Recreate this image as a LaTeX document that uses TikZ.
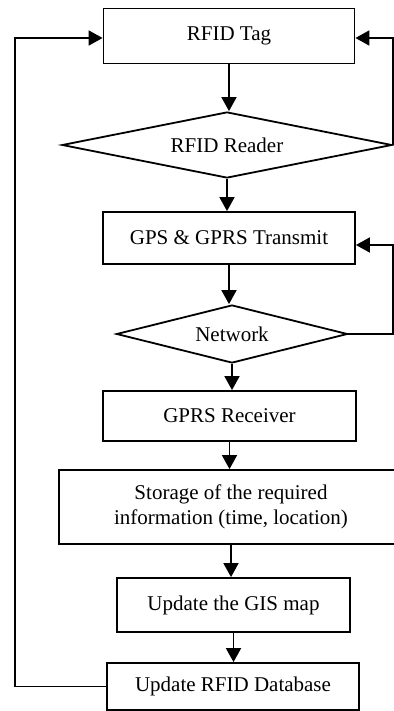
\documentclass[tikz,border=0pt]{standalone}
\usepackage{fontspec}
\setmainfont{Liberation Serif}
\usetikzlibrary{arrows.meta,shapes.geometric,calc}
\tikzset{>={Triangle[length=7pt,width=7.5pt]},
every picture/.append style={
    line join=miter,
    line width=0.9pt
  },
stepbox/.style={draw,rectangle,align=center,inner sep=2pt,font=\fontsize{10.5}{12.5}\selectfont},
choice/.style={draw,diamond,inner sep=0pt,aspect=5,font=\fontsize{10.5}{12.5}\selectfont}}

\begin{document}
\begin{tikzpicture}[x=0.5pt,y=-0.5pt]
    \useasboundingbox (0,0) rectangle (393,711);
    \node [stepbox,minimum width=125.5pt,minimum height=27.5pt] (tag) at (229,36) {RFID Tag};
    \node [choice,minimum width=165pt,minimum height=33pt] (reader) at (227,145) {RFID Reader};
    \node [stepbox,minimum width=126pt,minimum height=26pt] (gps) at (229,238) {GPS \& GPRS Transmit};
    \node [choice,minimum width=115.5pt,minimum height=29pt] (net) at (232,334) {Network};
    \node [stepbox,minimum width=126.5pt,minimum height=25pt] (recv) at (229.5,416) {GPRS Receiver};
    \node [stepbox,minimum width=172pt,minimum height=37pt] (store) at (231,507) {Storage of the required\\information (time, location)};
    \node [stepbox,minimum width=116.5pt,minimum height=27pt] (gis) at (233.5,605) {Update the GIS map};
    \node [stepbox,minimum width=126pt,minimum height=23.5pt] (db) at (233,686.5) {Update RFID Database};
    \coordinate (lft) at (15,0);
    \draw [->] (tag.south) -- (tag.south |- reader.north);
    \draw [->] (reader.south) -- (reader.south |- gps.north);
    \draw [->] (gps.south) -- (gps.south |- net.north);
    \draw [->] (net.south) -- (net.south |- recv.north);
    \draw [->] (recv.south) -- (recv.south |- store.north);
    \draw [->] (store.south) -- (store.south |- gis.north);
    \draw [->] (gis.south) -- (gis.south |- db.north);
    \draw [->] (reader.east) |- ([yshift=-1pt]tag.east);
    \draw [->] (net.east) -- (net.east -| reader.east) |- ([yshift=-3.5pt]gps.east);
    \draw [->] (db.west) -- (db.west -| lft) |- ([yshift=-1pt]tag.west);
\end{tikzpicture}
\end{document}
